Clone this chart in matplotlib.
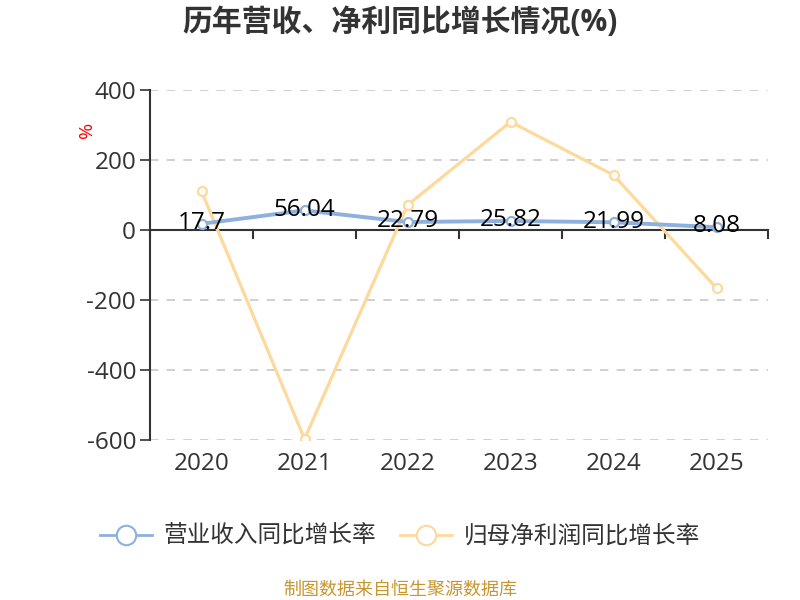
import matplotlib.pyplot as plt
from matplotlib.lines import Line2D
import numpy as np

plt.rcParams['font.family'] = ['Open Sans', 'Noto Sans CJK SC', 'DejaVu Sans']
plt.rcParams['axes.unicode_minus'] = False

# 数据
years = ['2020', '2021', '2022', '2023', '2024', '2025']
revenue_growth = [17.7, 56.04, 22.79, 25.82, 21.99, 8.08]
profit_growth = [111, -597, 71, 309, 157, -166]
revenue_labels = ['17.7', '56.04', '22.79', '25.82', '21.99', '8.08']

blue = '#8eb0dd'
orange = '#fdd99b'

fig = plt.figure(figsize=(8, 6), dpi=100)
ax = fig.add_axes([0.1875, 0.2667, 0.7725, 0.5833])

x = np.arange(len(years))

ax.plot(x, profit_growth, color=orange, lw=2.3, marker='o', ms=6.5,
        mfc='white', mec=orange, mew=1.6, zorder=3)
ax.plot(x, revenue_growth, color=blue, lw=2.8, marker='o', ms=6.5,
        mfc='white', mec=blue, mew=1.6, zorder=4)

# 数据标签（仅营收）
for xi, v, s in zip(x, revenue_growth, revenue_labels):
    ax.annotate(s, (xi, v), xytext=(0, 0.5), textcoords='offset points',
                ha='center', va='center', fontsize=17.5, color='black', zorder=5)

ax.set_xlim(-0.5, 5.5)
ax.set_ylim(-600, 400)
ax.set_yticks([400, 200, 0, -200, -400, -600])
ax.set_xticks(x)
ax.set_xticklabels(years)

for y in [400, 200, -200, -400, -600]:
    ax.axhline(y, color='#c8c8c8', lw=1.2, ls=(0, (5, 5)), zorder=1)
ax.axhline(0, color='#333333', lw=1.5, zorder=2)

# 零线上的分隔刻度
for xb in np.arange(-0.5, 6, 1):
    ax.plot([xb, xb], [0, -22], color='#333333', lw=1.5, zorder=2, clip_on=False)

for sp in ['top', 'right', 'bottom']:
    ax.spines[sp].set_visible(False)
ax.spines['left'].set_color('#333333')
ax.spines['left'].set_linewidth(1.5)

ax.tick_params(axis='y', labelsize=17.5, labelcolor='#333333', color='#333333',
               length=7, width=1.2, pad=3)
ax.tick_params(axis='x', length=0, labelsize=17.5, labelcolor='#333333', pad=9)

fig.text(0.109, 0.783, '%', color='red', fontsize=14, rotation=90,
         ha='center', va='center')

fig.text(0.5, 0.962, '历年营收、净利同比增长情况(%)', ha='center', va='center',
         fontsize=21.5, fontweight='bold', color='#333333')

handles = [
    Line2D([0], [0], color=blue, lw=2, marker='o', ms=14, mfc='white',
           mec=blue, mew=1.5),
    Line2D([0], [0], color=orange, lw=2, marker='o', ms=14, mfc='white',
           mec=orange, mew=1.5),
]
fig.legend(handles, ['营业收入同比增长率', '归母净利润同比增长率'],
           loc='center', bbox_to_anchor=(0.5, 0.105), ncol=2, frameon=False,
           fontsize=17, handlelength=2.2, columnspacing=1.0, handletextpad=0.5,
           labelcolor='#333333')

fig.text(0.5, 0.017, '制图数据来自恒生聚源数据库', ha='center', va='center',
         fontsize=13, color='#c8962e')

fig.savefig('out.png', dpi=100)
